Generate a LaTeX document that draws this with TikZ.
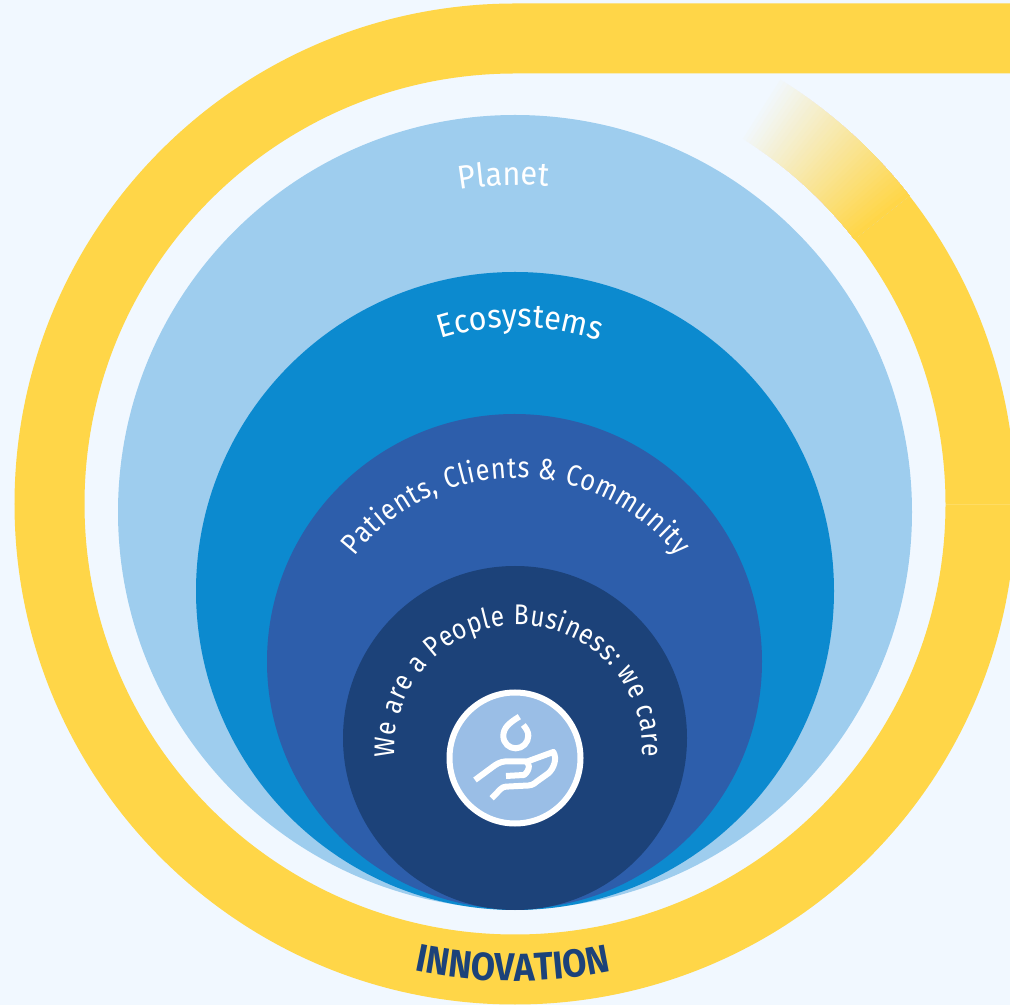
\documentclass[tikz,border=0pt]{standalone}
\usepackage{fontspec}
\usetikzlibrary{decorations.text}
\newfontfamily\bigfont[FakeStretch=0.93]{Fira Sans}
\newfontfamily\midfont[FakeStretch=0.86]{Fira Sans}
\newfontfamily\innofont[FakeStretch=0.9]{Fira Sans Bold}
\definecolor{bgc}{HTML}{F1F8FF}
\definecolor{ringc}{HTML}{FFD648}
\definecolor{planetc}{HTML}{9ECDEE}
\definecolor{ecoc}{HTML}{0C8ACF}
\definecolor{patc}{HTML}{2D5EAB}
\definecolor{corec}{HTML}{1C4279}
\definecolor{iconc}{HTML}{9ABEE6}
\tikzset{
  ring/.style={draw=ringc,line width=70pt},
  iconline/.style={draw=white,line width=6pt,line join=round},
  arctext/.style={decorate,decoration={text along path,text={#1},text align={fit to path},text color=white}},
  arcmid/.style={decorate,decoration={text along path,text={#1},text align=center,text color=white}},
  innotext/.style={decorate,decoration={text along path,text={#1},text align=center,text color=corec}}
}
\newcommand{\fa}{\bigfont\fontsize{33}{33}\selectfont}
\newcommand{\fb}{\midfont\fontsize{29.5}{30}\selectfont}
\newcommand{\fd}{\midfont\fontsize{28.5}{29}\selectfont}
\newcommand{\fc}{\innofont\fontsize{39}{39}\selectfont}
\begin{document}
\begin{tikzpicture}[x=1pt,y=1pt]
\useasboundingbox (0,0) rectangle (1010,1005);
\clip (0,0) rectangle (1010,1005);
\fill[bgc] (0,0) rectangle (1010,1005);
% yellow ring
\draw[ring] (1030,966.5) -- (515,966.5) arc[start angle=90,end angle=398,radius=465.5pt];
\foreach \i in {0,...,39}{
  \pgfmathsetmacro\ang{58-\i*0.5}
  \pgfmathsetmacro\mixv{(\i+1)*2.5}
  \draw[draw=ringc!\mixv!bgc,line width=70pt] (515,501)++(38:465.5pt) arc[start angle=38,end angle=\ang,radius=465.5pt];
}
\draw[ringc!85!white,line width=.3pt] (946,500.5) -- (1010,500.5);
% circles
\fill[planetc] (515,493) circle[radius=397pt];
\fill[ecoc] (515,414) circle[radius=319pt];
\fill[patc] (514.5,343.5) circle[radius=247.5pt];
\fill[corec] (515,267) circle[radius=172pt];
% icon
\draw[white,fill=iconc,line width=6pt] (515,247) circle[radius=65.5pt];
\begin{scope}[xshift=420pt,yshift=335pt,x=0.3333pt,y=-0.3333pt]
\draw[iconline] (298,140) .. controls (265,160) and (250,175) .. (250,198)
   .. controls (250,220) and (268,235) .. (287,235)
   .. controls (308,235) and (325,218) .. (325,197)
   .. controls (325,185) and (318,175) .. (310,165);
\draw[iconline] (165,330) -- (215,293) .. controls (228,283) and (240,275) .. (258,274)
   -- (315,274) .. controls (330,275) and (332,300) .. (312,315) -- (258,318);
\draw[iconline] (315,277) -- (400,246) .. controls (412,265) and (402,295) .. (385,310)
   -- (350,335) .. controls (340,345) and (330,347) .. (315,347) -- (258,350) .. controls (245,350) and (240,360) .. (215,385);
\end{scope}
% texts
\path[arcmid={|\fa|Planet}] (515,500)++(100:320pt) arc[start angle=100,end angle=84,radius=320pt];
\path[arcmid={|\fa|Ecosystems}] (517,428)++(110:250pt) arc[start angle=110,end angle=68.6,radius=250pt];
\path[arctext={|\fb|Patients, Clients {\&} Community}] (516,322)++(142:205pt) arc[start angle=142,end angle=38,radius=205pt];
\path[arctext={|\fd|We are a People Business: we care}] (518.5,256)++(183.7:124pt) arc[start angle=183.7,end angle=-3.7,radius=124pt];
\path[innotext={|\fc|INNOVATION}] (513,500)++(256:476pt) arc[start angle=256,end angle=284,radius=476pt];
\end{tikzpicture}
\end{document}
